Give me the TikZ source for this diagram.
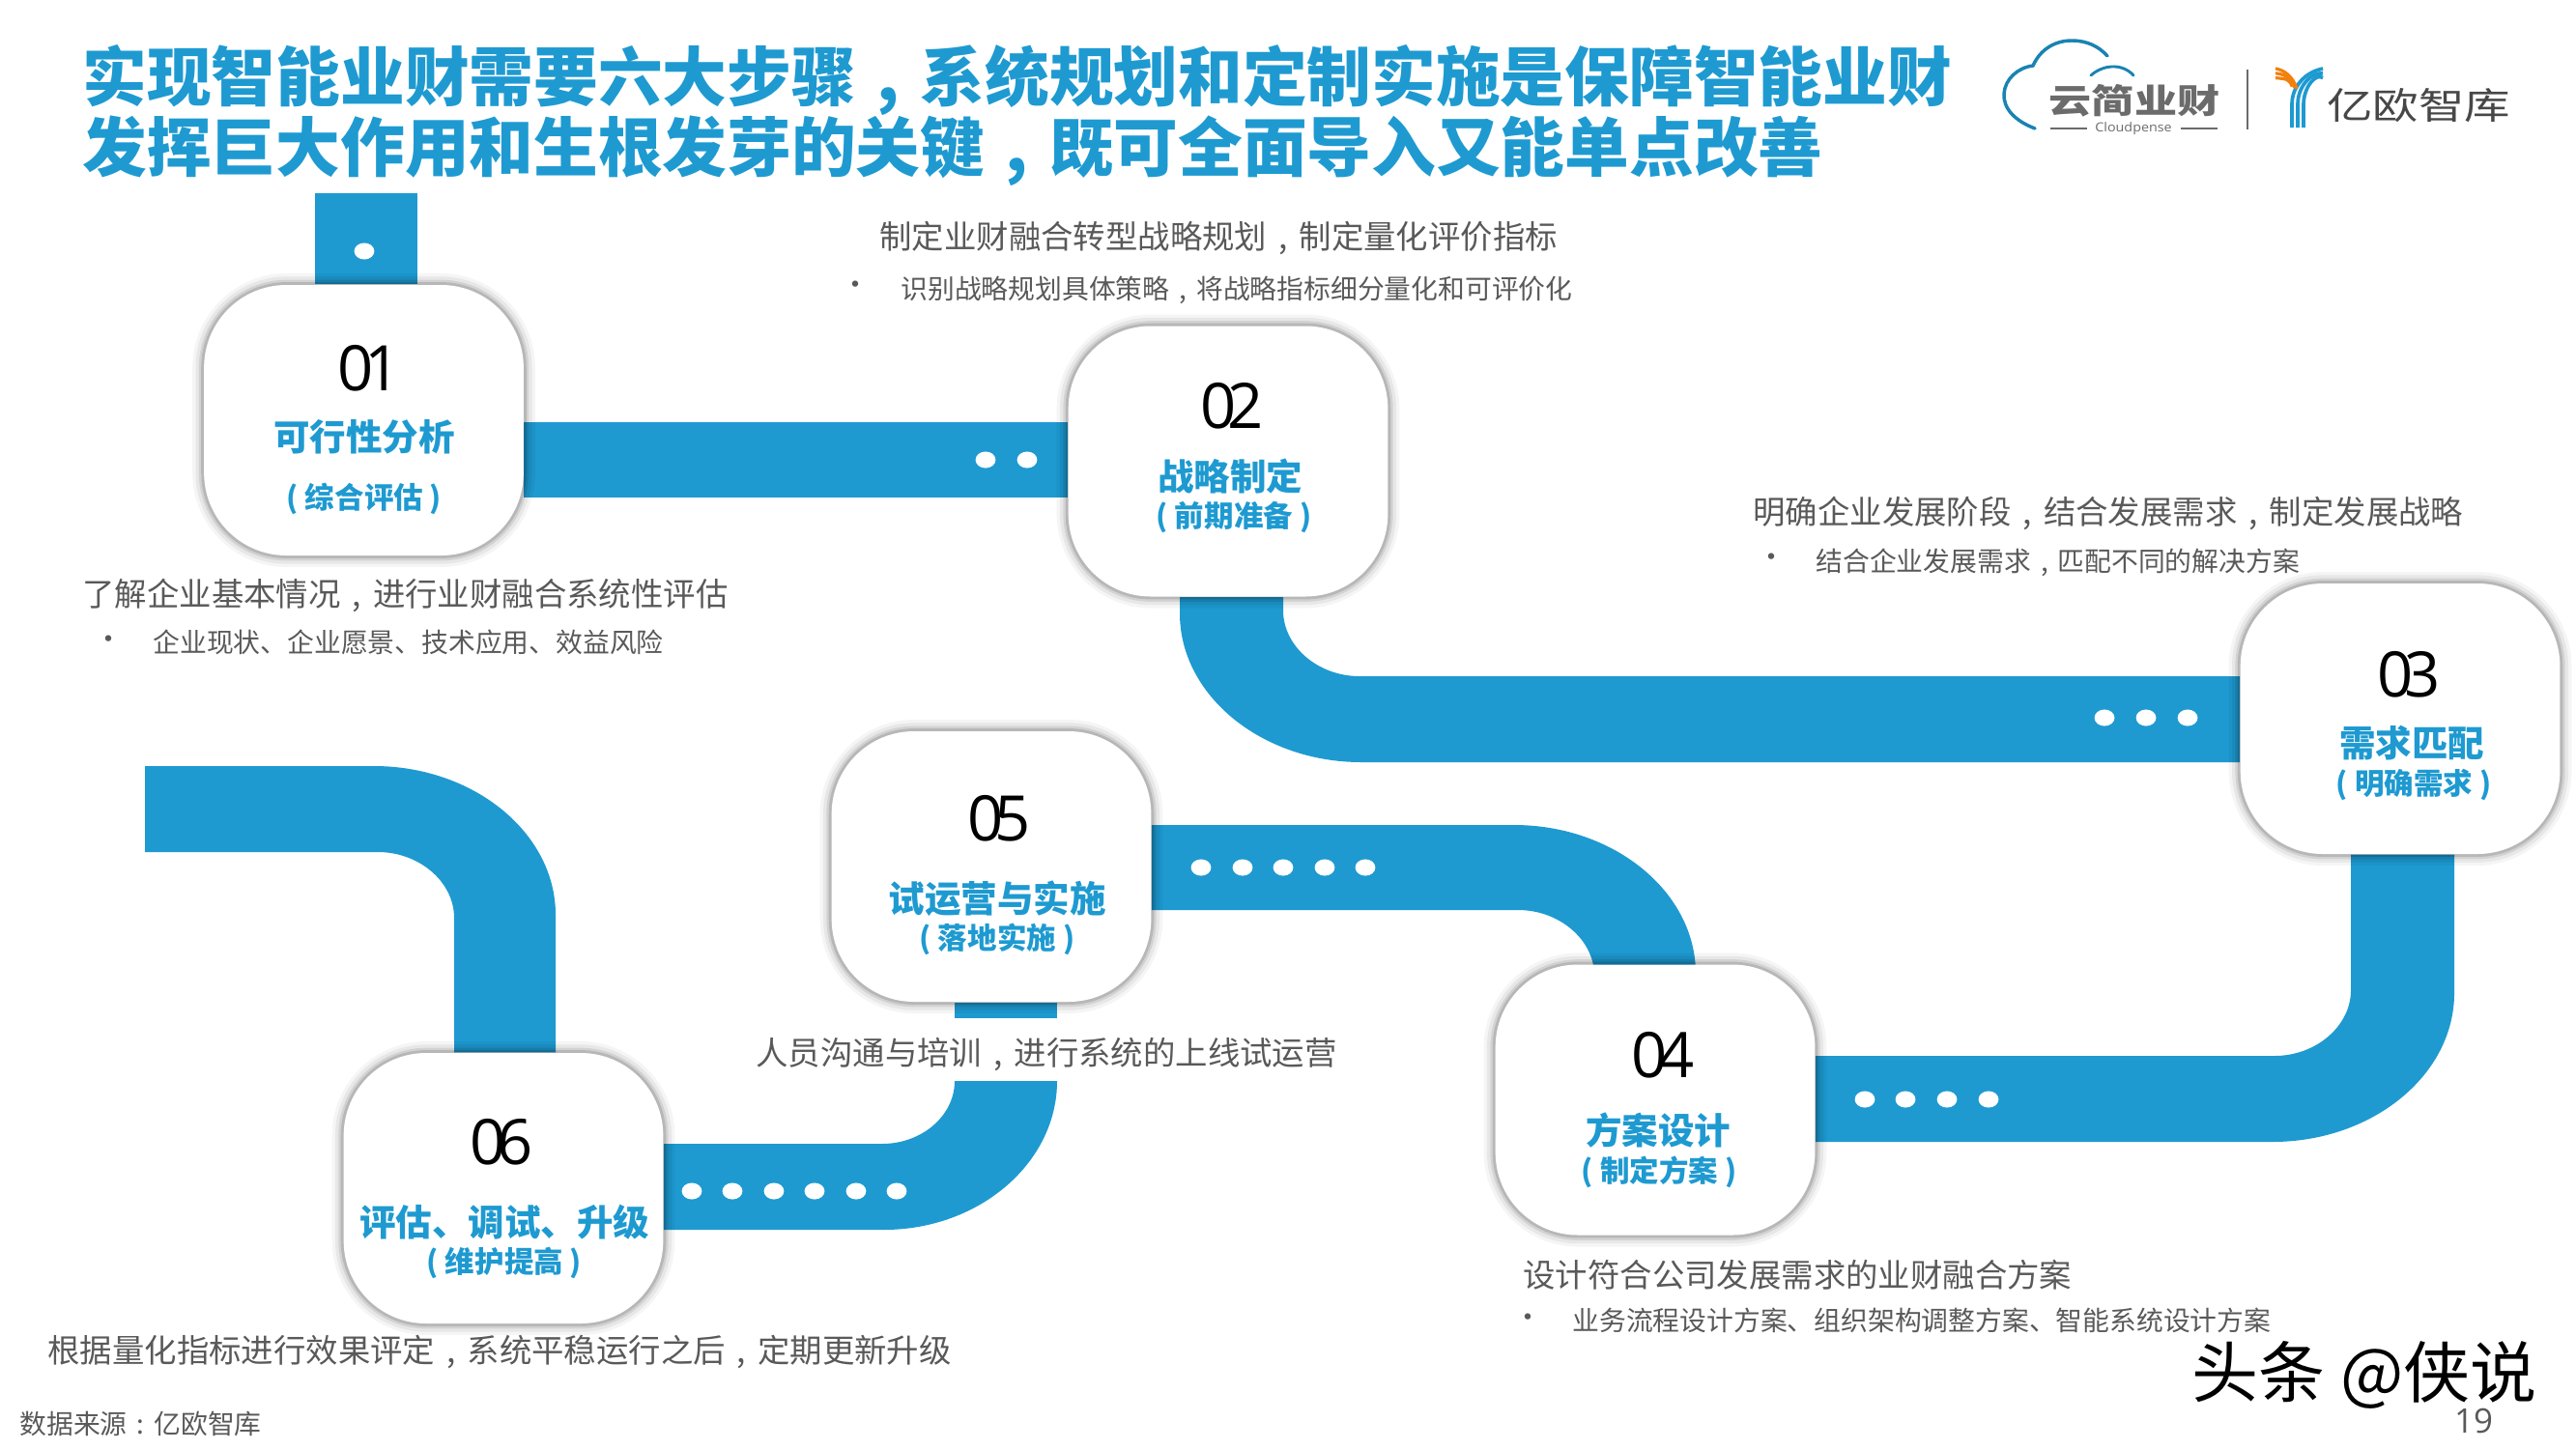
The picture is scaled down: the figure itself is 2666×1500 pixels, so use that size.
\documentclass[tikz,border=0pt]{standalone}
\usepackage{fontspec}
\usetikzlibrary{backgrounds,shapes.geometric}
\setmainfont{Noto Sans CJK SC}
\newfontfamily\numfont[LetterSpace=-14]{Open Sans}
\newfontfamily\latinfont{Open Sans}
\definecolor{ribbonblue}{HTML}{1E9AD1}
\definecolor{bodygray}{HTML}{595959}
\definecolor{logogray}{HTML}{6B6B6B}
\newcommand{\fs}[1]{\fontsize{\dimexpr#1pt*3/8\relax}{\dimexpr#1pt*9/20\relax}\selectfont}
\newcommand{\zc}{\makebox[1em][c]{,}}
\newcommand{\zcolon}{\makebox[1em][c]{:}}
\tikzset{
  x=0.375pt,y=-0.375pt,
  cardbox/.style={fill=white,rounded corners=32pt,minimum width=124pt,minimum height=105pt,inner sep=0pt,
    preaction={draw=black,draw opacity=.04,line width=9pt},
    preaction={draw=black,draw opacity=.06,line width=6.5pt},
    preaction={draw=black,draw opacity=.09,line width=4pt},
    preaction={draw=black,draw opacity=.13,line width=2.2pt}},
  ribbon/.style={fill=ribbonblue},
  ribbondot/.style={ellipse,fill=white,minimum width=7.8pt,minimum height=6.4pt,inner sep=0pt},
  numtext/.style={font=\numfont\fs{65},text=black,inner sep=0pt},
  cardtitle/.style={font=\bfseries\fs{37.5},text=ribbonblue,inner sep=0pt},
  cardsub/.style={font=\bfseries\fs{30.5},text=ribbonblue,inner sep=0pt},
  headline/.style={font=\bfseries\fs{66.7},text=ribbonblue,anchor=west,inner sep=0pt},
  leadtext/.style={font=\fs{33.4},text=bodygray,anchor=west,inner sep=0pt},
  subtext/.style={font=\fs{27.8},text=bodygray,anchor=west,inner sep=0pt},
  bulletmark/.style={font=\fs{30},text=bodygray,inner sep=0pt},
}
\begin{document}
\begin{tikzpicture}
\useasboundingbox (0,0) rectangle (2666,1500);
% cards
\node[cardbox] (n1) at (376.5,435) {};
\node[cardbox] (n2) at (1271,477.5) {};
\node[cardbox] (n3) at (2484,744) {};
\node[cardbox] (n4) at (1713,1138.5) {};
\node[cardbox] (n5) at (1026,897) {};
\node[cardbox] (n6) at (521,1230) {};
% ribbons
\begin{scope}[on background layer]
\fill[ribbon] (326,200) rectangle (432,0 |- n1.north);
\fill[ribbon] (n1.east |- 0,437) rectangle (n2.west |- 0,515);
\fill[ribbon] (1221,0 |- n2.south) -- (1221,635) .. controls (1221,720) and (1306,789) .. (1409,789)
  -- (n3.west |- 0,789) -- (n3.west |- 0,700) -- (1407,700) .. controls (1364,700) and (1328,669) .. (1328,632) -- (1328,0 |- n2.south) -- cycle;
\fill[ribbon] (2433,0 |- n3.south) -- (2433,1025) .. controls (2433,1062) and (2397,1093) .. (2354,1093)
  -- (n4.east |- 0,1093) -- (n4.east |- 0,1182) -- (2352,1182) .. controls (2455,1182) and (2540,1113) .. (2540,1028) -- (2540,0 |- n3.south) -- cycle;
\fill[ribbon] (n5.east |- 0,854) -- (1567,854) .. controls (1670,854) and (1755,923) .. (1755,1008)
  -- (1650,1010) .. controls (1650,973) and (1614,942) .. (1571,942) -- (n5.east |- 0,942) -- cycle;
\fill[ribbon] (988,0 |- n5.south) rectangle (1094,1054);
\fill[ribbon] (988,1119) .. controls (988,1155) and (954,1184) .. (913,1184)
  -- (n6.east |- 0,1184) -- (n6.east |- 0,1273) -- (915,1273) .. controls (1013,1273) and (1094,1204) .. (1094,1119) -- cycle;
\fill[ribbon] (470,0 |- n6.north) -- (470,950) .. controls (470,913) and (434,882) .. (391,882)
  -- (150,882) -- (150,793) -- (387,793) .. controls (490,793) and (575,862) .. (575,947) -- (575,0 |- n6.north) -- cycle;
\end{scope}
% dots
\node[ribbondot] (d1) at (377,260) {};
\foreach \i/\x in {2/1020,3/1063} \node[ribbondot] (d\i) at (\x,476) {};
\foreach \i/\x in {4/2178,5/2221,6/2264} \node[ribbondot] (d\i) at (\x,743) {};
\foreach \i/\x in {7/1930,8/1972,9/2015,10/2058} \node[ribbondot] (d\i) at (\x,1138) {};
\foreach \i/\x in {11/1243,12/1286,13/1328,14/1371,15/1413} \node[ribbondot] (d\i) at (\x,898) {};
\foreach \i/\x in {16/716,17/758,18/801,19/843,20/886,21/928} \node[ribbondot] (d\i) at (\x,1233) {};
% card texts
\node[numtext] (t1a) at (382,381) {01};
\node[cardtitle] (t1b) at (377,452) {可行性分析};
\node[cardsub] (t1c) at (377,516) {( 综合评估 )};
\node[numtext] (t2a) at (1275,420) {02};
\node[cardtitle] (t2b) at (1273,493) {战略制定};
\node[cardsub] (t2c) at (1277,535) {( 前期准备 )};
\node[numtext] (t3a) at (2493,698) {03};
\node[cardtitle] (t3b) at (2496,769) {需求匹配};
\node[cardsub] (t3c) at (2498,812) {( 明确需求 )};
\node[numtext] (t4a) at (1721,1092) {04};
\node[cardtitle] (t4b) at (1716,1170) {方案设计};
\node[cardsub] (t4c) at (1717,1213) {( 制定方案 )};
\node[numtext] (t5a) at (1034,847) {05};
\node[cardtitle] (t5b) at (1032,930) {试运营与实施};
\node[cardsub] (t5c) at (1032,972) {( 落地实施 )};
\node[numtext] (t6a) at (519,1182) {06};
\node[cardtitle] (t6b) at (522,1265) {评估、调试、升级};
\node[cardsub] (t6c) at (522,1307) {( 维护提高 )};
% title
\node[headline] (h1) at (85,83) {实现智能业财需要六大步骤\zc 系统规划和定制实施是保障智能业财};
\node[headline] (h2) at (85,156) {发挥巨大作用和生根发芽的关键\zc 既可全面导入又能单点改善};
% descriptions
\node[leadtext] (a1) at (910,247) {制定业财融合转型战略规划\zc 制定量化评价指标};
\node[bulletmark] (b1) at (885,298) {•};
\node[subtext] (a2) at (932,300) {识别战略规划具体策略\zc 将战略指标细分量化和可评价化};
\node[leadtext] (a3) at (85,616) {了解企业基本情况\zc 进行业财融合系统性评估};
\node[bulletmark] (b3) at (112,665) {•};
\node[subtext] (a4) at (158,665) {企业现状、企业愿景、技术应用、效益风险};
\node[leadtext] (a5) at (1814,531) {明确企业发展阶段\zc 结合发展需求\zc 制定发展战略};
\node[bulletmark] (b5) at (1833,580) {•};
\node[subtext] (a6) at (1879,582) {结合企业发展需求\zc 匹配不同的解决方案};
\node[leadtext] (a7) at (782,1092) {人员沟通与培训\zc 进行系统的上线试运营};
\node[leadtext] (a8) at (1576,1320) {设计符合公司发展需求的业财融合方案};
\node[bulletmark] (b8) at (1581,1367) {•};
\node[subtext] (a9) at (1627,1367) {业务流程设计方案、组织架构调整方案、智能系统设计方案};
\node[leadtext] (a10) at (49,1400) {根据量化指标进行效果评定\zc 系统平稳运行之后\zc 定期更新升级};
\node[subtext] (src) at (20,1474) {数据来源\zcolon 亿欧智库};
\node[font=\latinfont\fs{35},text=bodygray,inner sep=0pt] (pg) at (2560,1471) {19};
\node[font=\fs{69},text=black,anchor=west,inner sep=0pt] (wm) at (2268,1423) {头条 @侠说};
% cloud logo
\draw[ribbonblue!85!black,line width=1.3pt,line cap=round] (2106,133) .. controls (2085,125) and (2073,112) .. (2074,97)
  .. controls (2075,82) and (2088,70) .. (2104,68) .. controls (2112,50) and (2128,42) .. (2144,42) .. controls (2160,42) and (2172,48) .. (2181,58);
\draw[ribbonblue!85!black,line width=1.1pt,line cap=round] (2164,78) .. controls (2175,68) and (2195,64) .. (2208,78);
\node[font=\bfseries\fs{35},text=logogray,inner sep=0pt] (lg1) at (2209,104) {\scalebox{1.26}[1]{云简业财}};
\node[font=\latinfont\fs{13},text=logogray,inner sep=0pt] (lg2) at (2208,133) {\scalebox{1.1}[1]{Cloudpense}};
\coordinate (lgl) at (2122,133);
\coordinate (lgr) at (2295,133);
\draw[logogray,line width=.4pt] (lgl) -- (2160,133);
\draw[logogray,line width=.4pt] (2257,133) -- (lgr);
\coordinate (divt) at (2326,72);
\coordinate (divb) at (2326,134);
\draw[logogray,line width=.6pt] (divt) -- (divb);
% Y logo
\foreach \d in {0,6,12} {
  \draw[ribbonblue,line width=1.4pt] (2372+\d,132) -- (2372+\d,108) .. controls (2372+\d,90) and (2385+\d,75) .. (2404,71+\d*.8);
  \draw[orange!80!brown,line width=1.2pt] (2355,71+\d*.8) .. controls (2362+\d*.3,72+\d*.8) and (2373-\d*.3,78+\d*.3) .. (2377-\d*.4,92-\d*.2);
}
\node[font=\fs{38},text=black!72,inner sep=0pt] (lg3) at (2503,109) {\scalebox{1.25}[1]{亿欧智库}};
\end{tikzpicture}
\end{document}
